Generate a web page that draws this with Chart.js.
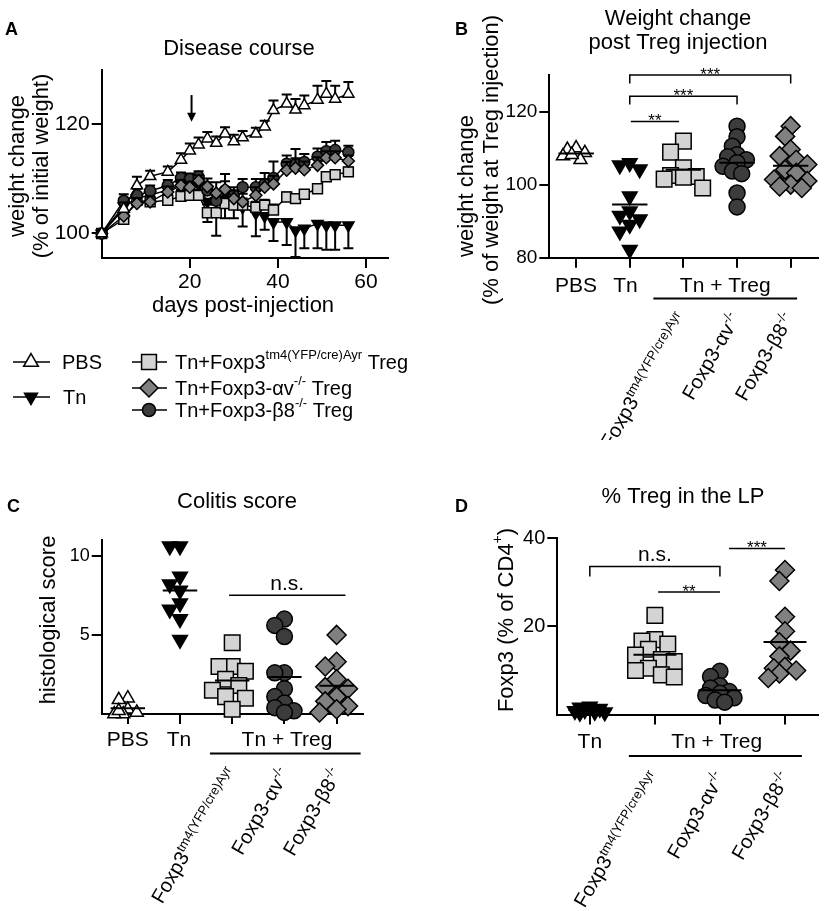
<!DOCTYPE html>
<html>
<head>
<meta charset="utf-8">
<script src="https://cdn.jsdelivr.net/npm/chart.js@4.4.1/dist/chart.umd.min.js"></script>
<style>
  body { margin: 0; background: #fff; }
  #page { position: relative; width: 830px; height: 911px; overflow: hidden; background: #fff; }
  canvas { position: absolute; }
</style>
</head>
<body>
<div id="page">
  <canvas id="chartA" width="420" height="440" style="left:0px;top:0px"></canvas>
  <canvas id="chartB" width="410" height="440" style="left:420px;top:0px"></canvas>
  <canvas id="chartC" width="420" height="471" style="left:0px;top:440px"></canvas>
  <canvas id="chartD" width="410" height="471" style="left:420px;top:440px"></canvas>
</div>
<script>
const FONT = '"Liberation Sans", Arial, Helvetica, sans-serif';
Chart.defaults.font.family = FONT;
Chart.defaults.color = '#000';

// ---------- Panel A: disease course (mean and SEM per day)
const days = [0, 5, 8, 11, 15, 18, 20, 22, 24, 26, 28, 30, 32, 35, 37, 39, 42, 44, 46, 49, 51, 53, 56];
const pbsMean = [100, 104.5, 108.8, 110.5, 111.3, 113.5, 115.2, 116.3, 117.4, 116.6, 118.3, 116.9, 117.6, 118.3, 119.6, 122.6, 123.8, 122.7, 123.5, 124.5, 125.6, 124.7, 125.6];
const pbsSem = [0, 1.2, 1.6, 1.0, 1.0, 1.2, 1.3, 1.3, 1.2, 1.2, 1.2, 1.2, 1.2, 1.1, 1.1, 1.8, 1.7, 2.0, 1.8, 2.6, 2.4, 2.4, 2.2];
const tnMean = [100, 105, 106.5, 107, 108, 109, 109.5, 109, 105.8, 106, 105.8, 105.3, 104.8, 103.7, 103.2, 102.1, 102.1, 100.6, 100.9, 101.8, 101.5, 101.5, 101.5];
const tnSem = [0, 1, 1, 1, 1, 1, 1, 1, 3.7, 6.4, 3, 2.5, 3.5, 4.2, 2.5, 3.5, 4.2, 4.9, 3.6, 4.5, 4.5, 4.5, 4.2];
const wtMean = [100, 102.6, 106.1, 105.8, 106.1, 106.8, 107, 107, 103.8, 103.8, 105.5, 105.2, 105.2, 104.8, 105.2, 104.3, 106.7, 106.4, 107.2, 108.2, 110.4, 110.8, 111.3];
const wtSem = [0, 0.8, 1, 1, 1, 1, 1, 1, 1.5, 1.5, 1.2, 1.2, 1.2, 1, 1, 1, 0.8, 0.8, 0.8, 0.8, 0.8, 0.8, 0.8];
const avMean = [100, 103.2, 105.5, 105.8, 107.6, 108.8, 108.5, 109.7, 108.6, 107.4, 108.1, 106.4, 105.8, 107, 108.5, 109.1, 111.6, 112, 111.7, 112.5, 113.9, 113.9, 113.3];
const avSem = [0, 1, 1, 1, 1, 1, 1, 1, 1.5, 2, 1.5, 1.5, 1.5, 1.5, 1.5, 1.5, 1.5, 1.8, 1.5, 1.5, 1.2, 1.2, 1.0];
const b8Mean = [100, 106, 107, 107.8, 108.8, 110.2, 110, 110.4, 107.9, 106, 107.9, 107, 108.5, 108.5, 109.1, 110.2, 112.8, 112.7, 113.1, 114.1, 115.1, 115.3, 114.9];
const b8Sem = [0, 1.2, 1.2, 1, 1, 1, 1, 1, 1.5, 1.5, 3, 1.5, 1.5, 1.5, 2, 3, 1.5, 2.8, 1.5, 1.5, 1.7, 1.7, 1.2];
const dayTicks = [20, 40, 60];
const weightTicks = [100, 120];
const injectionDay = 20.4;

// ---------- Panel B: weight change post Treg injection
const bPBS = [110, 109.6, 108.7, 107.8, 106.8, 108.2];
const bTn = [105.9, 105.3, 104.2, 96.8, 92.7, 91.5, 90.5, 89.0, 87.2, 82.2];
const bWT = [111.9, 108.9, 104.6, 102.5, 102.2, 102, 101.5, 99.1];
const bAV = [116, 113.1, 110.5, 108.2, 107.6, 106.8, 106, 105, 103.7, 103, 97.7, 93.9];
const bB8 = [116, 113.2, 109.6, 107.8, 106.8, 105.5, 104.1, 103.2, 101.4, 101, 100, 99.5, 99.1];
const bTicks = [80, 100, 120];

// ---------- Panel C: colitis score
const cPBS = [1.0, 0.9, 0.3, 0.1, 0, 0, 0.2];
const cTn = [10.6, 10.6, 8.7, 8.2, 7.8, 7.0, 6.6, 6.0, 4.7];
const cWT = [4.5, 3.0, 3.0, 2.7, 2.2, 1.8, 1.5, 1.1, 1.0, 0.3];
const cAV = [6.0, 5.6, 4.9, 2.6, 2.6, 1.6, 1.1, 0.7, 0.4, 0.2, 0.1];
const cB8 = [5.0, 3.3, 3.0, 2.2, 1.7, 1.6, 1.1, 0.8, 0.5, 0.3, 0.1];
const cTicks = [5, 10];

// ---------- Panel D: % Treg in the LP
const dTn = [1.8, 1.6, 1.3, 1.0, 0.8, 0.6, 0.5, 0.4];
const dWT = [22.5, 17.0, 16.7, 16.0, 14.8, 13.5, 12.5, 12.0, 10.5, 10.0, 9.0, 8.5];
const dAV = [9.8, 8.6, 6.5, 6.0, 5.2, 4.8, 4.3, 3.8, 3.3, 2.8];
const dB8 = [32.8, 30.3, 22.2, 18.9, 16.4, 14.5, 13.2, 10.8, 10.5, 10.0, 9.3, 8.3];
const dTicks = [20, 40];

// labels (strings starting with ^ are superscripts)
const labelWT = ['Foxp3', '^tm4(YFP/cre)Ayr'];
const labelAV = ['Foxp3-\u03b1v', '^-/-'];
const labelB8 = ['Foxp3-\u03b28', '^-/-'];

const shapes = {
  openTri: { pointStyle: 'triangle', rotation: 0, fill: '#ffffff' },
  downTri: { pointStyle: 'triangle', rotation: 180, fill: '#000000' },
  square: { pointStyle: 'rect', rotation: 0, fill: '#d4d4d4' },
  diamond: { pointStyle: 'rectRot', rotation: 0, fill: '#808080' },
  circle: { pointStyle: 'circle', rotation: 0, fill: '#3c3c3c' }
};

function mean(arr) {
  return arr.reduce((a, b) => a + b, 0) / arr.length;
}

/**
 * Spreads the points of one group sideways (a little) so they overlap less,
 * like the scatter dot plot of the original
 */
function swarm(values, center, pxX, pxY, diam) {
  const order = values.map((v, i) => i).sort((a, b) => values[b] - values[a]);
  const placed = [];
  const out = new Array(values.length);
  const step = diam * 0.3;
  const minD = diam * 0.6;
  order.forEach(i => {
    const py = values[i] * pxY;
    let best = 0, bestD = -1;
    for (let k = 0; k < 7; k++) {
      const cand = (k % 2 ? -1 : 1) * Math.ceil(k / 2) * step;
      const d = placed.length ? Math.min(...placed.map(p => Math.hypot(p.x - cand, p.y - py))) : Infinity;
      if (d >= minD) { best = cand; break; }
      if (d > bestD) { bestD = d; best = cand; }
    }
    placed.push({ x: best, y: py });
    out[i] = { x: center + best / pxX, y: values[i] };
  });
  return out;
}

function setFont(ctx, size, bold) {
  ctx.font = (bold ? 'bold ' : '') + size + 'px ' + FONT;
}

function richWidth(ctx, parts, size) {
  let w = 0;
  parts.forEach(p => {
    const sup = p[0] === '^';
    setFont(ctx, sup ? Math.round(size * 0.65) : size);
    w += ctx.measureText(sup ? p.slice(1) : p).width;
  });
  return w;
}

function drawRich(ctx, parts, x, y, size, align) {
  const w = richWidth(ctx, parts, size);
  let cx = align === 'right' ? x - w : align === 'center' ? x - w / 2 : x;
  ctx.textAlign = 'left';
  parts.forEach(p => {
    const sup = p[0] === '^';
    const t = sup ? p.slice(1) : p;
    setFont(ctx, sup ? Math.round(size * 0.65) : size);
    ctx.fillText(t, cx, sup ? y - size * 0.38 : y);
    cx += ctx.measureText(t).width;
  });
}

function drawMarker(ctx, shape, x, y, r) {
  const st = shapes[shape];
  ctx.save();
  ctx.fillStyle = st.fill;
  ctx.strokeStyle = '#000';
  ctx.lineWidth = 1.5;
  ctx.beginPath();
  if (st.pointStyle === 'circle') {
    ctx.arc(x, y, r, 0, Math.PI * 2);
  } else if (st.pointStyle === 'rect') {
    const s = r * Math.SQRT1_2;
    ctx.rect(x - s, y - s, 2 * s, 2 * s);
  } else if (st.pointStyle === 'rectRot') {
    ctx.moveTo(x, y - r); ctx.lineTo(x + r, y); ctx.lineTo(x, y + r); ctx.lineTo(x - r, y); ctx.closePath();
  } else {
    let rad = st.rotation * Math.PI / 180;
    ctx.moveTo(x + Math.sin(rad) * r, y - Math.cos(rad) * r);
    rad += Math.PI * 2 / 3;
    ctx.lineTo(x + Math.sin(rad) * r, y - Math.cos(rad) * r);
    rad += Math.PI * 2 / 3;
    ctx.lineTo(x + Math.sin(rad) * r, y - Math.cos(rad) * r);
    ctx.closePath();
  }
  ctx.fill();
  ctx.stroke();
  ctx.restore();
}

function verticalText(ctx, parts, cx, cy, size) {
  ctx.save();
  ctx.translate(cx, cy);
  ctx.rotate(-Math.PI / 2);
  ctx.textBaseline = 'middle';
  drawRich(ctx, parts, 0, 0, size, 'center');
  ctx.restore();
}

function buildScales(g) {
  return {
    x: {
      type: 'linear', min: g.xMin, max: g.xMax,
      afterBuildTicks: s => { s.ticks = g.xTicks.map(v => ({ value: v })); },
      afterFit: s => { s.height = g.xHeight; },
      grid: { drawOnChartArea: false, drawTicks: true, tickLength: 10, color: '#000', lineWidth: 2 },
      border: { display: true, color: '#000', width: 2 },
      ticks: { display: g.xLabels, autoSkip: false, maxRotation: 0, padding: 2, color: '#000', font: { family: FONT, size: g.tickSize } }
    },
    y: {
      type: 'linear', min: g.yMin, max: g.yMax,
      afterBuildTicks: s => { s.ticks = g.yTicks.map(v => ({ value: v })); },
      afterFit: s => { s.width = g.left; },
      grid: { drawOnChartArea: false, drawTicks: true, tickLength: 10, color: '#000', lineWidth: 2 },
      border: { display: true, color: '#000', width: 2 },
      ticks: { autoSkip: false, padding: 2, color: '#000', font: { family: FONT, size: g.tickSize } }
    }
  };
}

function baseOptions(g) {
  return {
    responsive: false,
    animation: false,
    events: [],
    layout: { padding: { left: 0, top: g.top, right: g.w - g.right, bottom: g.h - g.bottom - g.xHeight } },
    plugins: { legend: { display: false }, tooltip: { enabled: false } },
    scales: buildScales(g)
  };
}

// ---------- Panel A chart
const errorBarPlugin = {
  id: 'errorBars',
  beforeDatasetDraw(chart, args) {
    const ds = chart.data.datasets[args.index];
    if (!ds.errors) return;
    const { ctx, scales: { x, y } } = chart;
    ctx.save();
    ctx.strokeStyle = '#000';
    ctx.lineWidth = 2;
    ds.data.forEach((p, i) => {
      const e = ds.errors[i];
      if (!e) return;
      const px = x.getPixelForValue(p.x);
      const y0 = y.getPixelForValue(p.y);
      const y1 = y.getPixelForValue(p.y + ds.errDir * e);
      ctx.beginPath();
      ctx.moveTo(px, y0); ctx.lineTo(px, y1);
      ctx.moveTo(px - 5, y1); ctx.lineTo(px + 5, y1);
      ctx.stroke();
    });
    ctx.restore();
  }
};

function courseSeries(label, mean, sem, errDir, shape, radius, order) {
  const st = shapes[shape];
  return {
    label: label,
    data: days.map((d, i) => ({ x: d, y: mean[i] })),
    errors: sem,
    errDir: errDir,
    showLine: true,
    borderColor: '#000',
    borderWidth: 1.5,
    pointStyle: st.pointStyle,
    pointRotation: st.rotation,
    pointRadius: radius,
    pointBackgroundColor: st.fill,
    pointBorderColor: '#000',
    pointBorderWidth: 1.5,
    clip: false,
    order: order
  };
}

const geoA = { w: 420, h: 440, left: 101.7, right: 388, top: 70, bottom: 258, xHeight: 50,
  xMin: 0, xMax: 65, yMin: 95.5, yMax: 130, xTicks: dayTicks, yTicks: weightTicks, xLabels: true, tickSize: 21 };

new Chart(document.getElementById('chartA'), {
  type: 'scatter',
  data: {
    datasets: [
      courseSeries('PBS', pbsMean, pbsSem, 1, 'openTri', 6.5, 1),
      courseSeries('Tn+Foxp3-\u03b1v-/- Treg', avMean, avSem, 1, 'diamond', 6, 2),
      courseSeries('Tn+Foxp3-\u03b28-/- Treg', b8Mean, b8Sem, 1, 'circle', 5.5, 3),
      courseSeries('Tn+Foxp3tm4(YFP/cre)Ayr Treg', wtMean, wtSem, 1, 'square', 7, 4),
      courseSeries('Tn', tnMean, tnSem, -1, 'downTri', 6.5, 5)
    ]
  },
  options: baseOptions(geoA),
  plugins: [errorBarPlugin, {
    id: 'decorA',
    afterDraw(chart) {
      const ctx = chart.ctx;
      const { x, y } = chart.scales;
      ctx.save();
      ctx.fillStyle = '#000';
      ctx.textBaseline = 'alphabetic';
      setFont(ctx, 18, true); ctx.textAlign = 'left'; ctx.fillText('A', 5, 35);
      drawRich(ctx, ['Disease course'], 239, 55, 22, 'center');
      drawRich(ctx, ['days post-injection'], 243, 312, 22, 'center');
      verticalText(ctx, ['weight change'], 18, 166, 22);
      verticalText(ctx, ['(% of initial weight)'], 42, 166, 22);

      // arrow at the day of Treg injection
      const ax = x.getPixelForValue(injectionDay);
      const aTop = y.getPixelForValue(125.4);
      const aTip = y.getPixelForValue(120.5);
      ctx.strokeStyle = '#000'; ctx.lineWidth = 2;
      ctx.beginPath(); ctx.moveTo(ax, aTop); ctx.lineTo(ax, aTip - 6); ctx.stroke();
      ctx.beginPath(); ctx.moveTo(ax - 4.5, aTip - 9); ctx.lineTo(ax + 4.5, aTip - 9); ctx.lineTo(ax, aTip); ctx.closePath(); ctx.fill();

      // legend
      const rows = [
        { x0: 13, x1: 50, mx: 31, y: 362, shape: 'openTri', r: 8.5, tx: 62, text: ['PBS'] },
        { x0: 13, x1: 50, mx: 31, y: 397, shape: 'downTri', r: 7.5, tx: 63, text: ['Tn'] },
        { x0: 132, x1: 167, mx: 149, y: 362, shape: 'square', r: 10.5, tx: 175, text: ['Tn+Foxp3', '^tm4(YFP/cre)Ayr', ' Treg'] },
        { x0: 132, x1: 167, mx: 149, y: 388, shape: 'diamond', r: 9, tx: 175, text: ['Tn+Foxp3-\u03b1v', '^-/-', ' Treg'] },
        { x0: 132, x1: 167, mx: 149, y: 410, shape: 'circle', r: 6.5, tx: 175, text: ['Tn+Foxp3-\u03b28', '^-/-', ' Treg'] }
      ];
      rows.forEach(r => {
        ctx.strokeStyle = '#000'; ctx.lineWidth = 1.5;
        ctx.beginPath(); ctx.moveTo(r.x0, r.y); ctx.lineTo(r.x1, r.y); ctx.stroke();
        drawMarker(ctx, r.shape, r.mx, r.y, r.r);
        ctx.fillStyle = '#000';
        ctx.textBaseline = 'middle';
        drawRich(ctx, r.text, r.tx, r.y + 1, 20, 'left');
      });
      ctx.restore();
    }
  }]
});

// ---------- Panels B, C, D: scatter dot plots with mean lines
function dotPanel(id, g, groups, brackets, deco) {
  const pxX = (g.right - g.left) / (g.xMax - g.xMin);
  const pxY = (g.bottom - g.top) / (g.yMax - g.yMin);
  const datasets = [];
  groups.forEach((grp, i) => {
    const st = shapes[grp.shape];
    datasets.push({
      data: swarm(grp.values, i, pxX, pxY, grp.r * 2),
      showLine: false,
      pointStyle: st.pointStyle,
      pointRotation: st.rotation,
      pointRadius: grp.r,
      pointBackgroundColor: st.fill,
      pointBorderColor: '#000',
      pointBorderWidth: 1.5,
      clip: false,
      order: 3
    });
    const m = mean(grp.values);
    datasets.push({
      data: [{ x: i - 0.33, y: m }, { x: i + 0.33, y: m }],
      showLine: true, borderColor: '#000', borderWidth: 2, pointRadius: 0, clip: false, order: 1
    });
  });
  brackets.forEach(b => {
    const pts = b.drop
      ? [{ x: b.from, y: b.y - b.drop }, { x: b.from, y: b.y }, { x: b.to, y: b.y }, { x: b.to, y: b.y - b.drop }]
      : [{ x: b.from, y: b.y }, { x: b.to, y: b.y }];
    datasets.push({ data: pts, showLine: true, borderColor: '#000', borderWidth: 1.5, pointRadius: 0, clip: false, order: 0 });
  });

  new Chart(document.getElementById(id), {
    type: 'scatter',
    data: { datasets: datasets },
    options: baseOptions(g),
    plugins: [{
      id: 'decor' + id,
      afterDraw(chart) {
        const ctx = chart.ctx;
        const { x, y } = chart.scales;
        const ox = deco.offset[0], oy = deco.offset[1];
        ctx.save();
        ctx.fillStyle = '#000';
        ctx.textBaseline = 'alphabetic';
        setFont(ctx, 18, true); ctx.textAlign = 'left';
        ctx.fillText(deco.letter[0], deco.letter[1] - ox, deco.letter[2] - oy);
        deco.title.forEach(t => drawRich(ctx, [t[0]], deco.titleX - ox, t[1] - oy, 22, 'center'));
        deco.yTitle.forEach(t => verticalText(ctx, t[0], t[1] - ox, t[2] - oy, 22));

        // bracket labels
        brackets.forEach(b => {
          const mx = x.getPixelForValue((b.from + b.to) / 2);
          const ly = y.getPixelForValue(b.y);
          ctx.textBaseline = 'alphabetic';
          if (b.label.indexOf('*') >= 0) drawRich(ctx, [b.label], mx, ly + 5, 17, 'center');
          else drawRich(ctx, [b.label], mx, ly - 5, 21, 'center');
        });

        // category labels
        const base = deco.labelBaseline - oy;
        deco.catLabels.forEach(c => drawRich(ctx, [c[0]], x.getPixelForValue(c[1]), base, 21, 'center'));
        const gl = deco.group;
        drawRich(ctx, ['Tn + Treg'], x.getPixelForValue(gl.x), base, 21, 'center');
        ctx.strokeStyle = '#000'; ctx.lineWidth = 2;
        ctx.beginPath();
        ctx.moveTo(x.getPixelForValue(gl.from), deco.lineY - oy);
        ctx.lineTo(x.getPixelForValue(gl.to), deco.lineY - oy);
        ctx.stroke();

        // rotated strain labels
        deco.rot.forEach(r => {
          ctx.save();
          ctx.translate(x.getPixelForValue(r[1]) + deco.rotDx, deco.rotY - oy);
          ctx.rotate(-Math.PI / 3);
          ctx.textBaseline = 'alphabetic';
          drawRich(ctx, r[0], 0, 0, 20, 'right');
          ctx.restore();
        });
        ctx.restore();
      }
    }]
  });
}

dotPanel('chartB',
  { w: 410, h: 440, left: 129.3, right: 405, top: 75, bottom: 257.7, xHeight: 30,
    xMin: -0.5, xMax: 4.5, yMin: 80, yMax: 130, xTicks: [0, 1, 2, 3, 4], yTicks: bTicks, xLabels: false, tickSize: 19 },
  [
    { values: bPBS, shape: 'openTri', r: 7.5 },
    { values: bTn, shape: 'downTri', r: 8.5 },
    { values: bWT, shape: 'square', r: 11 },
    { values: bAV, shape: 'circle', r: 8 },
    { values: bB8, shape: 'diamond', r: 9.5 }
  ],
  [
    { from: 1, to: 4, y: 130, drop: 2.3, label: '***' },
    { from: 1, to: 3, y: 124.2, drop: 2.3, label: '***' },
    { from: 1.02, to: 1.92, y: 117.3, drop: 0, label: '**' }
  ],
  { offset: [420, 0], letter: ['B', 455, 35], titleX: 678,
    title: [['Weight change', 25], ['post Treg injection', 48.5]],
    yTitle: [[['weight change'], 467, 186], [['(% of weight at Treg injection)'], 492, 160]],
    catLabels: [['PBS', 0], ['Tn', 0.92]], group: { x: 2.78, from: 1.44, to: 4.12 },
    labelBaseline: 292, lineY: 298.5, rot: [[labelWT, 2], [labelAV, 3], [labelB8, 4]], rotDx: 4, rotY: 318 }
);

dotPanel('chartC',
  { w: 420, h: 471, left: 101.7, right: 362.7, top: 100, bottom: 274, xHeight: 30,
    xMin: -0.5, xMax: 4.5, yMin: 0, yMax: 11, xTicks: [0, 1, 2, 3, 4], yTicks: cTicks, xLabels: false, tickSize: 18 },
  [
    { values: cPBS, shape: 'openTri', r: 7.5 },
    { values: cTn, shape: 'downTri', r: 8.5 },
    { values: cWT, shape: 'square', r: 11 },
    { values: cAV, shape: 'circle', r: 8 },
    { values: cB8, shape: 'diamond', r: 9.5 }
  ],
  [
    { from: 1.94, to: 4.17, y: 7.5, drop: 0, label: 'n.s.' }
  ],
  { offset: [0, 440], letter: ['C', 7, 512], titleX: 237,
    title: [['Colitis score', 508]],
    yTitle: [[['histological score'], 49, 620]],
    catLabels: [['PBS', 0], ['Tn', 0.98]], group: { x: 3.05, from: 1.575, to: 4.46 },
    labelBaseline: 746, lineY: 753.5, rot: [[labelWT, 2], [labelAV, 3], [labelB8, 4]], rotDx: 6, rotY: 773 }
);

dotPanel('chartD',
  { w: 410, h: 471, left: 137.3, right: 403.3, top: 98.3, bottom: 274.5, xHeight: 30,
    xMin: -0.5, xMax: 3.5, yMin: 0, yMax: 40, xTicks: [0, 1, 2, 3], yTicks: dTicks, xLabels: false, tickSize: 20 },
  [
    { values: dTn, shape: 'downTri', r: 8.5 },
    { values: dWT, shape: 'square', r: 11 },
    { values: dAV, shape: 'circle', r: 8 },
    { values: dB8, shape: 'diamond', r: 9.5 }
  ],
  [
    { from: 0, to: 2, y: 33.6, drop: 2.3, label: 'n.s.' },
    { from: 1.05, to: 2.0, y: 27.8, drop: 0, label: '**' },
    { from: 2.14, to: 3.0, y: 37.7, drop: 0, label: '***' }
  ],
  { offset: [420, 440], letter: ['D', 455, 512], titleX: 683,
    title: [['% Treg in the LP', 503]],
    yTitle: [[['Foxp3 (% of CD4', '^+', ')'], 507, 620]],
    catLabels: [['Tn', 0]], group: { x: 1.95, from: 0.6, to: 3.26 },
    labelBaseline: 748, lineY: 756, rot: [[labelWT, 1], [labelAV, 2], [labelB8, 3]], rotDx: 6, rotY: 777 }
);
</script>
</body>
</html>
